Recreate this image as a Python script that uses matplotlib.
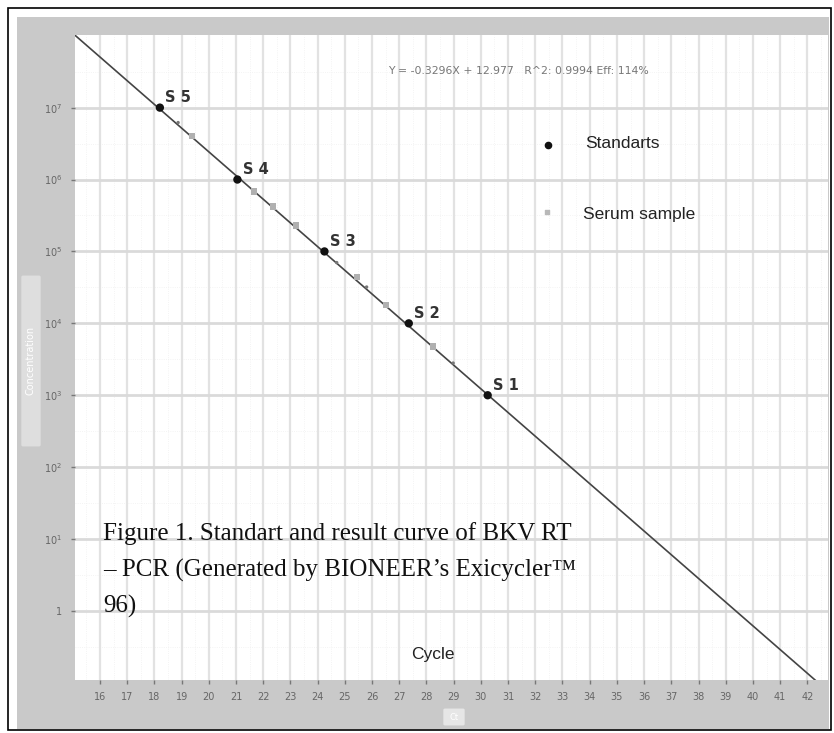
import matplotlib.pyplot as plt
from matplotlib.patches import Rectangle, FancyBboxPatch
import numpy as np

# standard curve fit reported by the cycler
slope = -0.3296
intercept = 12.977

# standards S1..S5
std_names = ['S 1', 'S 2', 'S 3', 'S 4', 'S 5']
std_ct = [30.25, 27.35, 24.25, 21.05, 18.2]
std_conc = [1e3, 1e4, 1e5, 1e6, 1e7]

# serum samples
serum_ct = [19.38, 21.66, 22.36, 23.2, 25.45, 26.51, 28.24]
serum_conc = [4.0e6, 6.8e5, 4.2e5, 2.3e5, 4.4e4, 1.8e4, 4.8e3]
serum_faint_ct = [18.87, 24.7, 25.8, 28.98]
serum_faint_conc = [6.2e6, 7.0e4, 3.2e4, 2.8e3]

x_ticks = list(range(16, 43))
y_ticks = [1, 1e1, 1e2, 1e3, 1e4, 1e5, 1e6, 1e7]
y_labels = ['1', '$10^1$', '$10^2$', '$10^3$', '$10^4$', '$10^5$', '$10^6$', '$10^7$']

W, H = 834, 733
fig = plt.figure(figsize=(W / 100, H / 100), dpi=100)
fig.patch.set_facecolor('white')

def fx(px):
    return px / W

def fy(py):
    return 1 - py / H

# outer frame and grey panel
fig.patches.append(Rectangle((fx(8), fy(730)), fx(823), (722) / H, transform=fig.transFigure,
                             fill=False, edgecolor='black', lw=1.2, zorder=-2))
fig.patches.append(Rectangle((fx(17), fy(729)), fx(812), (712) / H, transform=fig.transFigure,
                             facecolor='#c9c9c9', edgecolor='none', zorder=-2))

ax = fig.add_axes([fx(75), fy(680), fx(753), (645) / H])
ax.set_zorder(1)
ax.set_facecolor('white')
for s in ax.spines.values():
    s.set_visible(False)

ax.set_yscale('log')
ax.set_xlim(15.08, 42.76)
ax.set_ylim(10 ** -0.96, 10 ** 8.01)

ax.set_xticks(x_ticks)
ax.set_xticklabels([str(t) for t in x_ticks], fontsize=7, color='#666666')
ax.set_yticks(y_ticks)
ax.set_yticklabels(y_labels, fontsize=7, color='#666666')
ax.minorticks_off()
ax.tick_params(axis='x', length=3, width=1, color='#777777', pad=6)
ax.tick_params(axis='y', length=3, width=1, color='#777777', pad=6)

# grids
ax.grid(True, which='major', axis='x', color='#e2e2e2', lw=1.6)
ax.grid(True, which='major', axis='y', color='#dadada', lw=2.0)
for c in np.arange(15.5, 42.6, 1.0):
    ax.axvline(c, color='#f0f0f0', lw=0.6, ls=':', zorder=0)
for e in np.arange(-0.5, 8.0, 0.5):
    ax.axhline(10 ** e, color='#f0f0f0', lw=0.6, ls=':', zorder=0)
ax.set_axisbelow(True)

# fitted line
ct_line = np.linspace(15.1, 42.76, 200)
ax.plot(ct_line, 10 ** (intercept + slope * ct_line), color='#444444', lw=1.2, zorder=2)

ax.scatter(serum_ct, serum_conc, marker='s', s=22, color='#b0b0b0', edgecolor='none', zorder=3)
ax.scatter(serum_faint_ct, serum_faint_conc, marker='o', s=6, color='#777777', edgecolor='none', zorder=3)
ax.scatter(std_ct, std_conc, marker='o', s=36, color='#111111', edgecolor='none', zorder=4)
for name, c, v in zip(std_names, std_ct, std_conc):
    ax.annotate(name, (c, v), xytext=(4, 4), textcoords='offset points',
                fontsize=10.5, fontweight='bold', color='#333333')

# legend markers and labels
ax.scatter([16 + 448 / 27.2], [10 ** (7 - (145 - 108) / 72)], marker='o', s=20, color='#111111', clip_on=False)
ax.scatter([16 + 447 / 27.2], [10 ** (6 - (213 - 180) / 72)], marker='s', s=12, color='#b8b8b8', clip_on=False)
fig.text(fx(585), fy(143), 'Standarts', family='Liberation Sans', fontsize=12.5,
         color='#222222', va='center', zorder=3)
fig.text(fx(583), fy(215), 'Serum sample', family='Liberation Sans', fontsize=12.5,
         color='#222222', va='center', zorder=3)

# fit equation
fig.text(fx(388), fy(71), 'Y = -0.3296X + 12.977   R^2: 0.9994 Eff: 114%',
         fontsize=7.8, color='#777777', va='center', zorder=3)

fig.text(fx(433), fy(655), 'Cycle', family='Liberation Sans', fontsize=12.5,
         color='#222222', ha='center', va='center', zorder=3)

# axis title badges
fig.patches.append(FancyBboxPatch((fx(23), fy(445)), fx(16), 168 / H, transform=fig.transFigure,
                                  boxstyle='round,pad=0.002', facecolor='#dedede', edgecolor='none'))
fig.text(fx(31), fy(360), 'Concentration', rotation=90, fontsize=7, color='white',
         ha='center', va='center')
fig.patches.append(FancyBboxPatch((fx(445), fy(724)), fx(18), 14 / H, transform=fig.transFigure,
                                  boxstyle='round,pad=0.002', facecolor='#e6e6e6', edgecolor='none'))
fig.text(fx(454), fy(717), 'Ct', fontsize=6, color='white', ha='center', va='center')

# caption
caption = ['Figure 1. Standart and result curve of BKV RT',
           '\u2013 PCR (Generated by BIONEER\u2019s Exicycler\u2122',
           '96)']
for i, line in enumerate(caption):
    fig.text(fx(103), fy(534 + 36 * i), line, family='Liberation Serif', fontsize=18,
             color='#111111', va='center', zorder=3)

fig.savefig('out.png', dpi=100)
